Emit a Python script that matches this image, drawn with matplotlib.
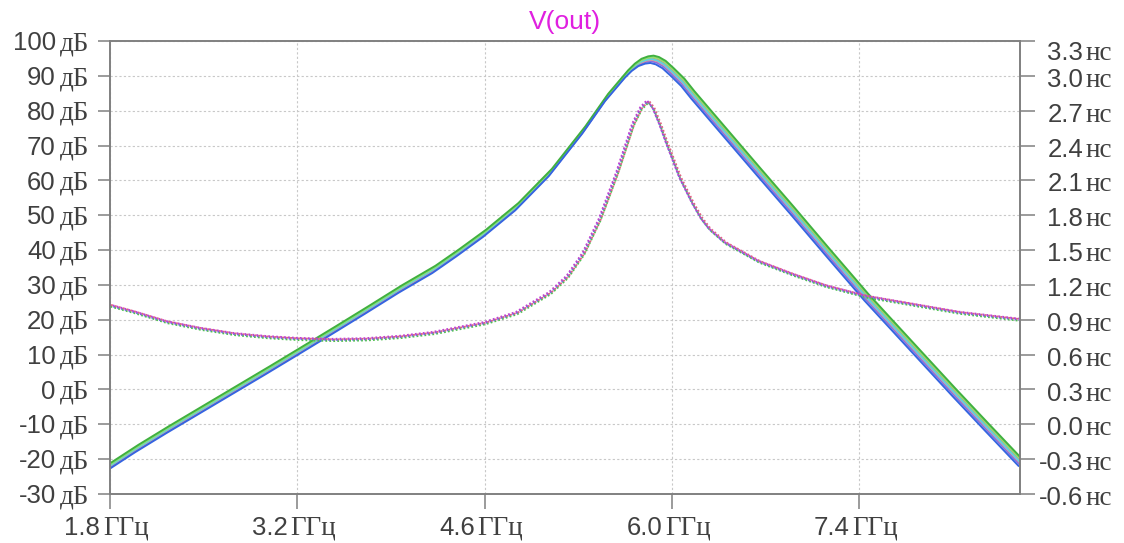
import matplotlib
matplotlib.use('Agg')
import matplotlib.pyplot as plt
import numpy as np

# --- data (frequency in GHz) ---
freq_gain = [1.8, 2.0, 2.23, 2.48, 2.73, 2.98, 3.2, 3.47, 3.72, 3.97, 4.22, 4.4, 4.6, 4.84,
             5.09, 5.34, 5.51, 5.66, 5.71, 5.76, 5.81, 5.85, 5.89, 5.94, 6.0, 6.08,
             6.155, 6.4, 6.65, 6.9, 7.15, 7.45, 7.8, 8.1, 8.35, 8.6]
gain_db = [-21.9, -16.9, -11.5, -5.8, -0.1, 5.6, 10.7, 17.0, 22.9, 28.9, 34.5, 39.3, 44.9, 52.5,
           62.3, 74.5, 83.8, 90.6, 92.5, 93.9, 94.6, 94.8, 94.4, 93.3, 91.2, 88.2,
           84.6, 73.6, 62.4, 51.3, 40.0, 26.6, 12.0, -0.5, -10.7, -20.8]

freq_delay = [1.8, 1.98, 2.23, 2.48, 2.73, 2.98, 3.2, 3.47, 3.72, 3.97, 4.22, 4.6, 4.84,
              5.09, 5.22, 5.34, 5.46, 5.59, 5.71, 5.77, 5.82, 5.86, 5.91, 5.96, 6.0,
              6.06, 6.155, 6.22, 6.28, 6.4, 6.65, 6.9, 7.15, 7.45, 7.9, 8.15, 8.6]
delay_ns = [1.023, 0.966, 0.879, 0.822, 0.777, 0.750, 0.735, 0.726, 0.732, 0.752, 0.786,
            0.870, 0.957, 1.13, 1.27, 1.47, 1.76, 2.16, 2.58, 2.72, 2.78, 2.72, 2.58,
            2.42, 2.30, 2.12, 1.90, 1.77, 1.68, 1.56, 1.40, 1.29, 1.19, 1.10, 1.01, 0.96, 0.90]

# Monte Carlo runs: colour, gain offset (dB), frequency shift (GHz)
gain_colors = ['#8a6ee0', '#f09090', '#d0a060', '#60d0e0', '#90e070', '#40b040', '#3565e0']
gain_offsets = [-0.6, -0.2, 0.2, 0.0, 0.6, 1.0, -1.1]
gain_shifts = [-0.005, 0.0, 0.005, 0.0, 0.01, 0.012, -0.012]

delay_colors = ['#40c0c0', '#50c050', '#7070e0', '#e06080', '#c040d0']
delay_offsets = [0.0, -0.01, 0.0, 0.005, 0.01]
delay_shifts = [0.0, 0.004, -0.004, 0.008, -0.008]

x_ticks = [1.8, 3.2, 4.6, 6.0, 7.4]
x_labels = ['1.8', '3.2', '4.6', '6.0', '7.4']
db_ticks = [-30, -20, -10, 0, 10, 20, 30, 40, 50, 60, 70, 80, 90, 100]
ns_ticks = [-0.6, -0.3, 0.0, 0.3, 0.6, 0.9, 1.2, 1.5, 1.8, 2.1, 2.4, 2.7, 3.0, 3.3]

TXT = '#404040'
AXC = '#808080'
SANS = 'Liberation Sans'
SERIF = 'Liberation Serif'

fig = plt.figure(figsize=(11.24, 5.43), dpi=100)
fig.subplots_adjust(left=110 / 1124, right=1020 / 1124, top=1 - 41 / 543, bottom=1 - 494 / 543)
ax = fig.add_subplot(111)
ax2 = ax.twinx()

for c, off, sh in zip(gain_colors, gain_offsets, gain_shifts):
    ax.plot(np.array(freq_gain) + sh, np.array(gain_db) + off, color=c, lw=1.4)

for c, off, sh in zip(delay_colors, delay_offsets, delay_shifts):
    ax2.plot(np.array(freq_delay) + sh, np.array(delay_ns) + off, color=c, lw=1.3,
             linestyle=(0, (1, 1.2)))

ax.set_xlim(1.8, 8.6)
ax.set_ylim(-30, 100)
ax2.set_ylim(-0.6, 3.3)
ax.set_xticks(x_ticks)
ax.set_yticks(db_ticks)
ax2.set_yticks(ns_ticks)
ax.grid(True, color='#c8c8c8', linestyle=(0, (2, 2)), lw=0.8)
ax.set_axisbelow(True)

ax.tick_params(axis='y', length=8.6, width=1.1, color=AXC, labelleft=False)
ax.tick_params(axis='x', length=10.8, width=1.1, color=AXC, labelbottom=False)
ax2.tick_params(axis='y', length=10.8, width=1.1, color=AXC, labelright=False)
for a in (ax, ax2):
    for s in a.spines.values():
        s.set_color(AXC)
        s.set_linewidth(1.2)

# left labels: sans number + serif unit
for v in db_ticks:
    ax.annotate(str(v), xy=(0, v), xycoords=('axes fraction', 'data'),
                xytext=(-39, -6.6), textcoords='offset points', ha='right', va='baseline',
                family=SANS, fontsize=18.5, color=TXT, annotation_clip=False)
    ax.annotate('дБ', xy=(0, v), xycoords=('axes fraction', 'data'),
                xytext=(-36, -6.6), textcoords='offset points', ha='left', va='baseline',
                family=SERIF, fontsize=19.5, color=TXT, annotation_clip=False)

# right labels
for v in ns_ticks:
    dy = -13.5 if v == ns_ticks[-1] else -8.0
    ax2.annotate(f'{v:.1f}', xy=(1, v), xycoords=('axes fraction', 'data'),
                 xytext=(45.4, dy), textcoords='offset points', ha='right', va='baseline',
                 family=SANS, fontsize=18.5, color=TXT, annotation_clip=False)
    ax2.annotate('нс', xy=(1, v), xycoords=('axes fraction', 'data'),
                 xytext=(47.5, dy), textcoords='offset points', ha='left', va='baseline',
                 family=SERIF, fontsize=19.5, color=TXT, annotation_clip=False)

# bottom labels
for v, lab in zip(x_ticks, x_labels):
    ax.annotate(lab, xy=(v, 0), xycoords=('data', 'axes fraction'),
                xytext=(-7.2, -29.5), textcoords='offset points', ha='right', va='baseline',
                family=SANS, fontsize=18.5, color=TXT, annotation_clip=False)
    ax.annotate('ГГц', xy=(v, 0), xycoords=('data', 'axes fraction'),
                xytext=(-5.0, -29.5), textcoords='offset points', ha='left', va='baseline',
                family=SERIF, fontsize=19.5, color=TXT, annotation_clip=False)

fig.text(565 / 1124, 1 - 29 / 543, 'V(out)', ha='center', va='baseline',
         family=SANS, fontsize=19, color='#e020e0')

fig.savefig('out.png', dpi=100)
